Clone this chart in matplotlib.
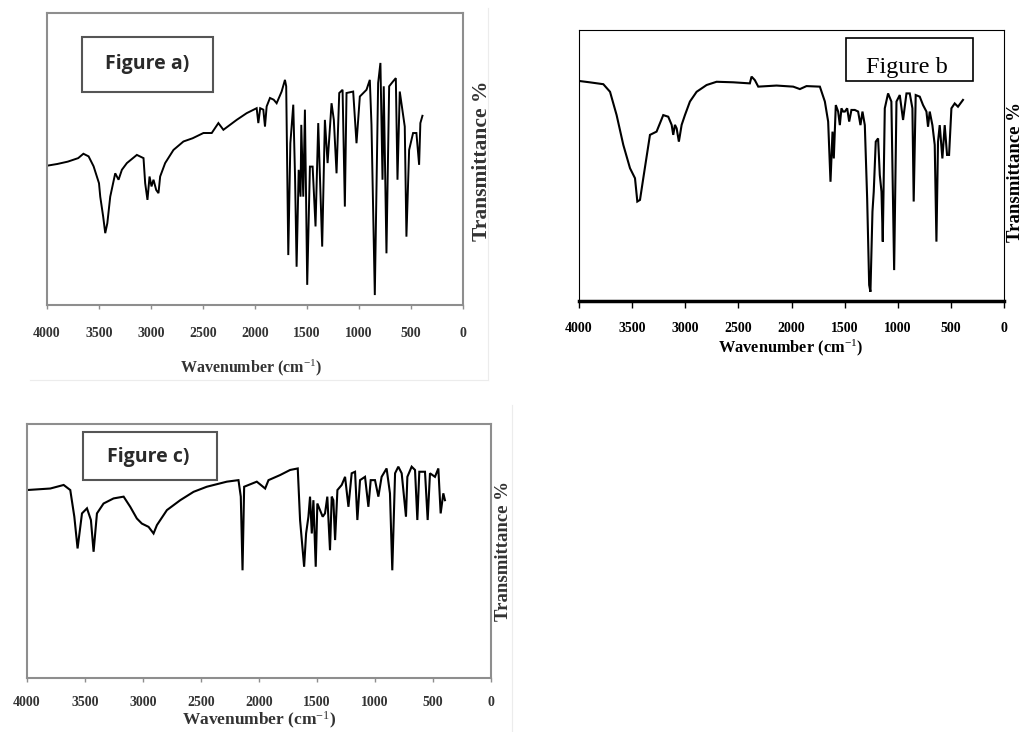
import matplotlib
matplotlib.use("Agg")
import matplotlib.pyplot as plt
from matplotlib.patches import Rectangle
from matplotlib.lines import Line2D

# ---------------- data ----------------
wn_a = [4000, 3900, 3800, 3700, 3650, 3600, 3552, 3500, 3488, 3460, 3440, 3420, 3392, 3344, 3312,
        3280, 3232, 3136, 3072, 3056, 3034, 3014, 2995, 2976, 2950, 2928, 2912, 2864, 2784, 2688,
        2600, 2496, 2416, 2352, 2304, 2176, 2080, 1984, 1968, 1950, 1920, 1904, 1888, 1856, 1820,
        1792, 1744, 1712, 1700, 1680, 1660, 1632, 1615, 1600, 1580, 1562, 1555, 1536, 1520, 1498,
        1472, 1446, 1418, 1392, 1354, 1328, 1302, 1264, 1242, 1216, 1190, 1158, 1136, 1120, 1056,
        1024, 992, 928, 896, 880, 848, 816, 794, 774, 762, 736, 710, 672, 646, 630,
        608, 560, 544, 518, 480, 448, 422, 410, 390]
t_a = [47.7, 48.3, 49.1, 50.3, 51.8, 50.9, 47.5, 41.7, 37.1, 30.3, 24.6, 28.0, 37.1, 45.1, 42.9,
       46.3, 48.6, 51.4, 50.3, 41.7, 36.0, 44.0, 40.6, 42.9, 39.4, 38.3, 44.0, 48.6, 53.1, 56.0,
       57.1, 58.9, 58.9, 62.3, 60.0, 63.4, 65.7, 67.4, 62.3, 67.4, 66.9, 61.1, 68.0, 70.9, 70.3,
       69.1, 73.1, 77.1, 74.9, 17.1, 55.4, 68.6, 44.0, 13.1, 46.3, 37.1, 61.7, 37.1, 66.9, 6.9,
       47.4, 47.4, 26.9, 62.3, 20.0, 63.4, 48.6, 69.1, 63.4, 45.1, 72.6, 73.7, 33.7, 72.6, 73.1,
       55.4, 71.4, 73.7, 77.1, 61.7, 3.4, 76.0, 82.9, 42.9, 74.9, 17.7, 74.9, 76.6, 77.7, 42.9,
       73.1, 61.1, 23.4, 53.1, 58.9, 58.9, 48.0, 62.3, 64.8]

wn_b = [4000, 3900, 3771, 3708, 3646, 3583, 3520, 3473, 3451, 3426, 3395, 3332, 3270, 3207, 3160,
        3128, 3113, 3097, 3081, 3060, 3034, 3003, 2956, 2893, 2799, 2705, 2548, 2392, 2376, 2345,
        2313, 2141, 1984, 1921, 1859, 1733, 1686, 1655, 1633, 1614, 1602, 1583, 1561, 1545, 1530,
        1514, 1498, 1476, 1457, 1436, 1404, 1373, 1351, 1332, 1310, 1288, 1269, 1257, 1238, 1226,
        1207, 1185, 1169, 1153, 1141, 1122, 1091, 1060, 1034, 1012, 981, 950, 918, 887, 862,
        850, 831, 793, 762, 730, 715, 699, 674, 652, 636, 621, 605, 580, 558, 536,
        517, 495, 464, 433, 386]
t_b = [81.2, 80.7, 80.0, 77.2, 68.6, 57.6, 49.0, 45.3, 36.7, 37.3, 45.3, 61.3, 62.5, 68.6, 68.0,
       65.0, 61.3, 65.0, 63.7, 58.8, 65.0, 68.6, 73.6, 77.2, 79.7, 80.9, 80.7, 80.3, 82.8, 81.5,
       79.1, 79.5, 79.1, 78.2, 79.3, 79.1, 73.6, 66.2, 44.0, 62.5, 52.6, 72.3, 69.9, 64.9, 71.1,
       69.9, 69.9, 71.1, 66.2, 70.5, 70.5, 69.9, 64.9, 69.9, 64.9, 37.9, 5.9, 3.4, 33.0, 40.3,
       58.8, 60.0, 46.5, 40.3, 21.9, 71.1, 76.6, 73.6, 11.4, 73.6, 76.0, 66.8, 76.6, 76.6, 71.1,
       36.7, 76.0, 75.4, 72.3, 69.9, 64.3, 69.9, 64.9, 57.6, 21.9, 58.8, 64.9, 52.6, 64.9, 53.9,
       53.9, 71.1, 72.9, 71.7, 74.2]

wn_c = [4000, 3799, 3684, 3627, 3592, 3564, 3526, 3483, 3449, 3426, 3397, 3340, 3254, 3167, 3110,
        3053, 3010, 2952, 2909, 2880, 2794, 2679, 2564, 2450, 2277, 2177, 2157, 2142, 2128, 2019,
        1947, 1918, 1818, 1732, 1666, 1646, 1631, 1611, 1594, 1574, 1560, 1545, 1531, 1511, 1497,
        1474, 1451, 1431, 1411, 1388, 1373, 1359, 1344, 1324, 1287, 1258, 1229, 1201, 1172, 1152,
        1129, 1086, 1057, 1037, 1000, 971, 943, 900, 871, 851, 827, 799, 770, 750, 733,
        721, 684, 655, 635, 618, 569, 546, 526, 483, 454, 434, 411, 397]
t_c = [74.0, 74.6, 76.0, 74.0, 63.5, 51.0, 64.8, 66.8, 62.2, 49.7, 64.8, 68.7, 70.7, 71.4, 67.4,
       62.8, 60.8, 59.5, 56.9, 60.2, 66.1, 70.0, 73.3, 75.3, 77.3, 77.9, 71.4, 42.4, 75.3, 77.3,
       74.6, 77.9, 79.9, 81.9, 82.5, 62.2, 54.3, 43.8, 56.9, 63.5, 71.4, 56.9, 70.0, 43.8, 68.7,
       66.1, 63.5, 64.8, 71.4, 50.3, 71.4, 70.0, 54.3, 74.0, 76.0, 79.2, 67.4, 80.6, 81.2, 62.2,
       77.9, 79.2, 67.4, 77.9, 77.9, 71.4, 79.2, 82.5, 72.7, 42.4, 80.6, 83.2, 80.6, 71.4, 63.5,
       79.2, 83.2, 81.9, 62.2, 81.2, 81.2, 62.2, 80.6, 79.2, 82.5, 64.8, 72.7, 70.0]

xticks = [4000, 3500, 3000, 2500, 2000, 1500, 1000, 500, 0]
xtick_labels = ["4000", "3500", "3000", "2500", "2000", "1500", "1000", "500", "0"]
legend_labels = ["Figure a)", "Figure b", "Figure c)"]
xlabel = "Wavenumber (cm$^{-1}$)"
ylabel = "Transmittance %"

# ---------------- figure ----------------
W, H = 1024, 732
plt.rcParams["mathtext.fontset"] = "custom"
plt.rcParams["mathtext.rm"] = "Liberation Serif"
plt.rcParams["mathtext.it"] = "Liberation Serif:italic"
plt.rcParams["mathtext.bf"] = "Liberation Serif:bold"
fig = plt.figure(figsize=(W / 100, H / 100), dpi=100)
fig.patch.set_facecolor("white")


def rect(l, t, r, b):
    return [l / W, 1 - b / H, (r - l) / W, (b - t) / H]


def fx(x):
    return x / W


def fy(y):
    return 1 - y / H


def faint_line(x0, y0, x1, y1):
    fig.add_artist(Line2D([fx(x0), fx(x1)], [fy(y0), fy(y1)], transform=fig.transFigure,
                          color="#ececec", lw=0.8))


# faint right/bottom edges of the pasted images
faint_line(488, 8, 488, 380)
faint_line(30, 380, 488, 380)
faint_line(512, 405, 512, 732)

serif = "Liberation Serif"


def make_axes(pos, wn, t, spine_color, tick_color, lw_line, pad, tick_fs, bottom_lw, spine_lw, ticklen):
    ax = fig.add_axes(pos)
    ax.plot(wn, t, color="black", lw=lw_line, solid_joinstyle="miter")
    ax.set_xlim(4000, 0)
    ax.set_ylim(0, 100)
    ax.set_yticks([])
    ax.set_xticks(xticks)
    ax.set_xticklabels(xtick_labels, fontfamily=serif, fontweight="bold", fontsize=tick_fs, color=tick_color)
    ax.tick_params(axis="x", direction="out", length=ticklen, width=1, color=spine_color, pad=pad)
    for s in ["left", "right", "top"]:
        ax.spines[s].set_color(spine_color)
        ax.spines[s].set_linewidth(spine_lw)
    ax.spines["bottom"].set_color(spine_color)
    ax.spines["bottom"].set_linewidth(bottom_lw)
    return ax


# Panel a
make_axes(rect(47, 13, 463, 305), wn_a, t_a, "#8e8e8e", "#333333", 1.4, 13, 10, 1.5, 1.5, 3)
# Panel b
make_axes(rect(579, 30, 1004, 301), wn_b, t_b, "black", "black", 1.5, 10, 10, 2.5, 0.8, 5)
# Panel c
make_axes(rect(27, 424, 491, 678), wn_c, t_c, "#8e8e8e", "#333333", 1.5, 10, 10, 1.5, 1.5, 3)

# legend-like boxes
boxes = [(82, 37, 213, 92, "#555555", 1.5), (846, 38, 973, 81, "black", 1.2), (83, 432, 217, 480, "#555555", 1.5)]
for (l, t, r, b, ec, lw) in boxes:
    fig.add_artist(Rectangle((fx(l), fy(b)), (r - l) / W, (b - t) / H, transform=fig.transFigure,
                             fill=False, edgecolor=ec, lw=lw))
fig.text(fx(147), fy(64), legend_labels[0], family="Open Sans", fontsize=14, fontweight="bold",
         color="#2a2a2a", ha="center", va="center")
fig.text(fx(907), fy(73), legend_labels[1], family=serif, fontsize=17.5, color="black",
         ha="center", va="baseline")
fig.text(fx(148), fy(457), legend_labels[2], family="Open Sans", fontsize=14, fontweight="bold",
         color="#2a2a2a", ha="center", va="center")

# axis titles
fig.text(fx(251), fy(368), xlabel, family=serif, fontweight="bold", fontsize=11.5, color="#333333",
         ha="center", va="center")
fig.text(fx(791), fy(348), xlabel, family=serif, fontweight="bold", fontsize=11.8, color="black",
         ha="center", va="center")
fig.text(fx(259), fy(720), xlabel, family=serif, fontweight="bold", fontsize=12.5, color="#333333",
         ha="center", va="center")

fig.text(fx(482), fy(161), ylabel, family=serif, fontweight="bold", fontsize=15.5, color="#333333",
         rotation=90, ha="center", va="center")
fig.text(fx(1015), fy(172), ylabel, family=serif, fontweight="bold", fontsize=13.5, color="black",
         rotation=90, ha="center", va="center")
fig.text(fx(504), fy(551), ylabel, family=serif, fontweight="bold", fontsize=13.5, color="#333333",
         rotation=90, ha="center", va="center")

fig.savefig("out.png", dpi=100, facecolor="white")
